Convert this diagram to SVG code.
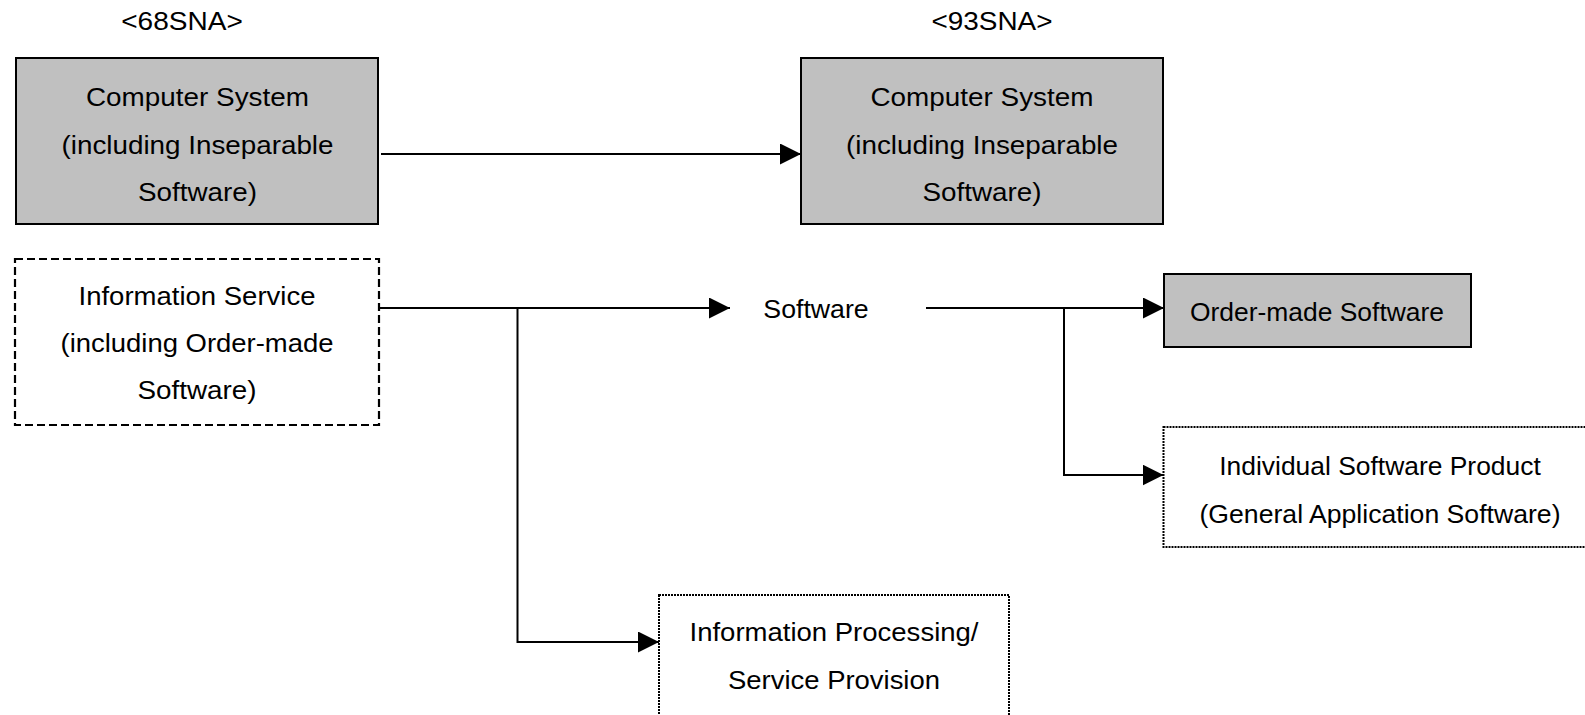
<svg xmlns="http://www.w3.org/2000/svg" width="1585" height="715" viewBox="0 0 1585 715">
  <style>
    text { font-family: "Liberation Sans", Arial, sans-serif; font-size: 26.7px; fill: #000; text-anchor: middle; }
    .solid { fill: #c0c0c0; stroke: #000; stroke-width: 2; }
    .dashed { fill: #fff; stroke: #000; stroke-width: 2.2; stroke-dasharray: 8 4; }
    .dotted { fill: #fff; stroke: #000; stroke-width: 2; stroke-dasharray: 2 1; }
    .conn { fill: none; stroke: #000; stroke-width: 2; }
  </style>
  <defs>
    <marker id="arrow" viewBox="0 0 20 20" refX="20" refY="10" markerWidth="21" markerHeight="21" markerUnits="userSpaceOnUse" orient="auto">
      <path d="M0,0 L20,10 L0,20 Z" fill="#000"/>
    </marker>
  </defs>
  <rect width="1585" height="715" fill="#fff"/>

  <text id="label-68sna" x="182" y="30" textLength="121.5" lengthAdjust="spacingAndGlyphs">&lt;68SNA&gt;</text>
  <text id="label-93sna" x="992" y="30" textLength="121" lengthAdjust="spacingAndGlyphs">&lt;93SNA&gt;</text>

  <g id="computer-system-68">
    <rect class="solid" x="16" y="58" width="362" height="166"/>
    <text x="197.5" y="106" textLength="223" lengthAdjust="spacingAndGlyphs">Computer System</text>
    <text x="197.5" y="153.5" textLength="272" lengthAdjust="spacingAndGlyphs">(including Inseparable</text>
    <text x="197.5" y="201" textLength="119" lengthAdjust="spacingAndGlyphs">Software)</text>
  </g>

  <g id="computer-system-93">
    <rect class="solid" x="801" y="58" width="362" height="166"/>
    <text x="982" y="106" textLength="223" lengthAdjust="spacingAndGlyphs">Computer System</text>
    <text x="982" y="153.5" textLength="272" lengthAdjust="spacingAndGlyphs">(including Inseparable</text>
    <text x="982" y="201" textLength="119" lengthAdjust="spacingAndGlyphs">Software)</text>
  </g>

  <g id="information-service">
    <rect class="dashed" x="15" y="259" width="364" height="166"/>
    <text x="197" y="305" textLength="237" lengthAdjust="spacingAndGlyphs">Information Service</text>
    <text x="197" y="352" textLength="273" lengthAdjust="spacingAndGlyphs">(including Order-made</text>
    <text x="197" y="399" textLength="119" lengthAdjust="spacingAndGlyphs">Software)</text>
  </g>

  <g id="software">
    <text x="816" y="318">Software</text>
  </g>

  <g id="order-made-software">
    <rect class="solid" x="1164" y="274" width="307" height="73"/>
    <text x="1317" y="321" textLength="254" lengthAdjust="spacingAndGlyphs">Order-made Software</text>
  </g>

  <g id="individual-software-product">
    <rect class="dotted" x="1163.5" y="427" width="440" height="120"/>
    <text x="1380" y="475" textLength="321.5" lengthAdjust="spacingAndGlyphs">Individual Software Product</text>
    <text x="1380" y="523" textLength="361" lengthAdjust="spacingAndGlyphs">(General Application Software)</text>
  </g>

  <g id="information-processing">
    <rect class="dotted" x="659" y="595" width="350" height="125"/>
    <text x="834" y="641" textLength="289" lengthAdjust="spacingAndGlyphs">Information Processing/</text>
    <text x="834" y="689" textLength="212" lengthAdjust="spacingAndGlyphs">Service Provision</text>
  </g>

  <g id="connectors">
    <line class="conn" x1="381" y1="154" x2="801" y2="154" marker-end="url(#arrow)"/>
    <line class="conn" x1="380" y1="308" x2="730" y2="308" marker-end="url(#arrow)"/>
    <polyline class="conn" points="517.5,307 517.5,642 659,642" marker-end="url(#arrow)"/>
    <line class="conn" x1="926" y1="308" x2="1164" y2="308" marker-end="url(#arrow)"/>
    <polyline class="conn" points="1064,307 1064,475 1163.5,475" marker-end="url(#arrow)"/>
  </g>
</svg>
